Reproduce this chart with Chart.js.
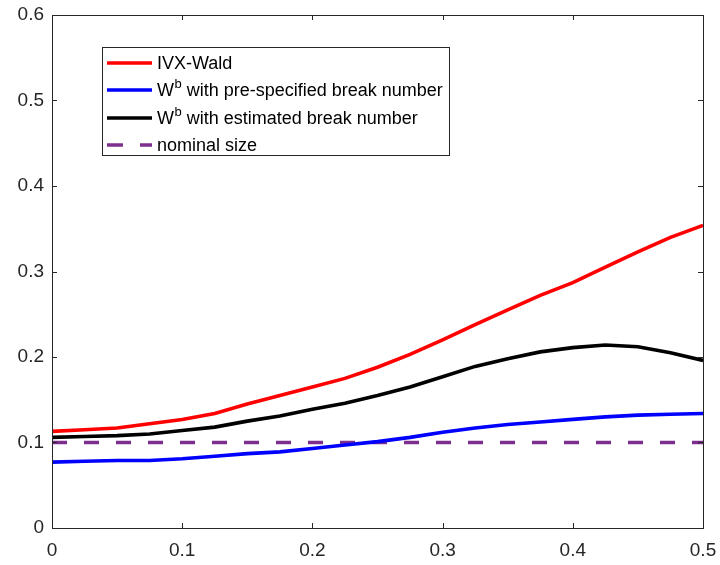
<!DOCTYPE html>
<html>
<head>
<meta charset="utf-8">
<script src="https://cdn.jsdelivr.net/npm/chart.js@4"></script>
<style>
  body { margin: 0; background: #fff; }
  canvas { display: block; }
</style>
</head>
<body>
<canvas id="chart" width="720" height="565"></canvas>
<script>
// x positions
const xValues = [0, 0.025, 0.05, 0.075, 0.1, 0.125, 0.15, 0.175, 0.2, 0.225, 0.25,
  0.275, 0.3, 0.325, 0.35, 0.375, 0.4, 0.425, 0.45, 0.475, 0.5];

// series
const ivxWald = [0.113, 0.115, 0.117, 0.122, 0.127, 0.134, 0.145, 0.155, 0.165, 0.175, 0.188,
  0.203, 0.220, 0.238, 0.255, 0.272, 0.287, 0.305, 0.323, 0.340, 0.354];
const wbPreSpecified = [0.077, 0.078, 0.079, 0.079, 0.081, 0.084, 0.087, 0.089, 0.093, 0.097, 0.101,
  0.106, 0.112, 0.117, 0.121, 0.124, 0.127, 0.130, 0.132, 0.133, 0.134];
const wbEstimated = [0.106, 0.107, 0.108, 0.110, 0.114, 0.118, 0.125, 0.131, 0.139, 0.146, 0.155,
  0.165, 0.177, 0.189, 0.198, 0.206, 0.211, 0.214, 0.212, 0.205, 0.196];
const nominalSize = [0.1, 0.1, 0.1, 0.1, 0.1, 0.1, 0.1, 0.1, 0.1, 0.1, 0.1,
  0.1, 0.1, 0.1, 0.1, 0.1, 0.1, 0.1, 0.1, 0.1, 0.1];

const xTicks = [0, 0.1, 0.2, 0.3, 0.4, 0.5];
const yTicks = [0, 0.1, 0.2, 0.3, 0.4, 0.5, 0.6];

const legendItems = [
  { main: "IVX-Wald", sup: "", rest: "", color: "#ff0000", dash: [] },
  { main: "W", sup: "b", rest: " with pre-specified break number", color: "#0000ff", dash: [] },
  { main: "W", sup: "b", rest: " with estimated break number", color: "#000000", dash: [] },
  { main: "nominal size", sup: "", rest: "", color: "#7e2f8e", dash: [16, 17] },
];

const AXIS = "#262626";
const FONT = "'Liberation Sans', Arial, Helvetica, sans-serif";
const LINE_W = 3.6;

const toPoints = (ys) => xValues.map((x, i) => ({ x: x, y: ys[i] }));

// box, inward ticks and legend, MATLAB style
const matlabAxes = {
  id: "matlabAxes",
  afterDraw(chart) {
    const ctx = chart.ctx;
    const a = chart.chartArea;
    const xs = chart.scales.x;
    const ys = chart.scales.y;
    ctx.save();
    ctx.strokeStyle = AXIS;
    ctx.lineWidth = 1;
    ctx.strokeRect(a.left + 0.5, a.top + 0.5, a.right - a.left, a.bottom - a.top);
    ctx.beginPath();
    xTicks.forEach((v) => {
      const px = Math.round(xs.getPixelForValue(v)) + 0.5;
      ctx.moveTo(px, a.bottom);
      ctx.lineTo(px, a.bottom - 5);
      ctx.moveTo(px, a.top);
      ctx.lineTo(px, a.top + 5);
    });
    yTicks.forEach((v) => {
      const py = Math.round(ys.getPixelForValue(v)) + 0.5;
      ctx.moveTo(a.left, py);
      ctx.lineTo(a.left + 5, py);
      ctx.moveTo(a.right, py);
      ctx.lineTo(a.right - 5, py);
    });
    ctx.stroke();

    // legend
    const bx = 102.5, by = 47.5, bw = 347, bh = 108;
    ctx.fillStyle = "#fff";
    ctx.fillRect(bx, by, bw, bh);
    ctx.strokeStyle = AXIS;
    ctx.strokeRect(bx, by, bw, bh);
    const rows = [63, 90, 118, 145];
    legendItems.forEach((it, i) => {
      const y = rows[i];
      ctx.strokeStyle = it.color;
      ctx.lineWidth = LINE_W;
      ctx.setLineDash(it.dash);
      ctx.beginPath();
      ctx.moveTo(107, y);
      ctx.lineTo(152, y);
      ctx.stroke();
      ctx.setLineDash([]);
      ctx.fillStyle = "#000";
      ctx.textBaseline = "middle";
      ctx.textAlign = "left";
      ctx.font = "18px " + FONT;
      let tx = 157;
      ctx.fillText(it.main, tx, y + 1);
      tx += ctx.measureText(it.main).width;
      if (it.sup) {
        ctx.font = "13px " + FONT;
        ctx.fillText(it.sup, tx + 0.5, y - 6);
        tx += ctx.measureText(it.sup).width + 0.5;
        ctx.font = "18px " + FONT;
        ctx.fillText(it.rest, tx, y + 1);
      }
    });
    ctx.restore();
  },
};

const lineStyle = (color) => ({
  borderColor: color,
  backgroundColor: color,
  borderWidth: LINE_W,
  pointRadius: 0,
  tension: 0,
  fill: false,
});

new Chart(document.getElementById("chart"), {
  type: "line",
  data: {
    datasets: [
      { label: "IVX-Wald", data: toPoints(ivxWald), ...lineStyle("#ff0000") },
      { label: "Wb pre-specified", data: toPoints(wbPreSpecified), ...lineStyle("#0000ff") },
      { label: "Wb estimated", data: toPoints(wbEstimated), ...lineStyle("#000000") },
      { label: "nominal size", data: toPoints(nominalSize), ...lineStyle("#7e2f8e"), borderDash: [15, 17] },
    ],
  },
  options: {
    responsive: false,
    animation: false,
    layout: { padding: { top: 15, right: 17, left: 0, bottom: 0 } },
    plugins: { legend: { display: false }, tooltip: { enabled: false } },
    scales: {
      x: {
        type: "linear",
        min: 0,
        max: 0.5,
        afterBuildTicks: (s) => { s.ticks = xTicks.map((v) => ({ value: v })); },
        afterFit: (s) => { s.height = 37; s.paddingLeft = 0; s.paddingRight = 0; },
        grid: { display: false, drawTicks: false },
        border: { display: false },
        ticks: {
          color: AXIS,
          padding: 11,
          maxRotation: 0,
          font: { family: FONT, size: 19 },
          callback: (v) => Number(v.toFixed(1)).toString(),
        },
      },
      y: {
        min: 0,
        max: 0.6,
        afterBuildTicks: (s) => { s.ticks = yTicks.map((v) => ({ value: v })); },
        afterFit: (s) => { s.width = 52; s.paddingTop = 0; s.paddingBottom = 0; },
        grid: { display: false, drawTicks: false },
        border: { display: false },
        ticks: {
          color: AXIS,
          padding: 8,
          font: { family: FONT, size: 19 },
          callback: (v) => Number(v.toFixed(1)).toString(),
        },
      },
    },
  },
  plugins: [matlabAxes],
});
</script>
</body>
</html>
